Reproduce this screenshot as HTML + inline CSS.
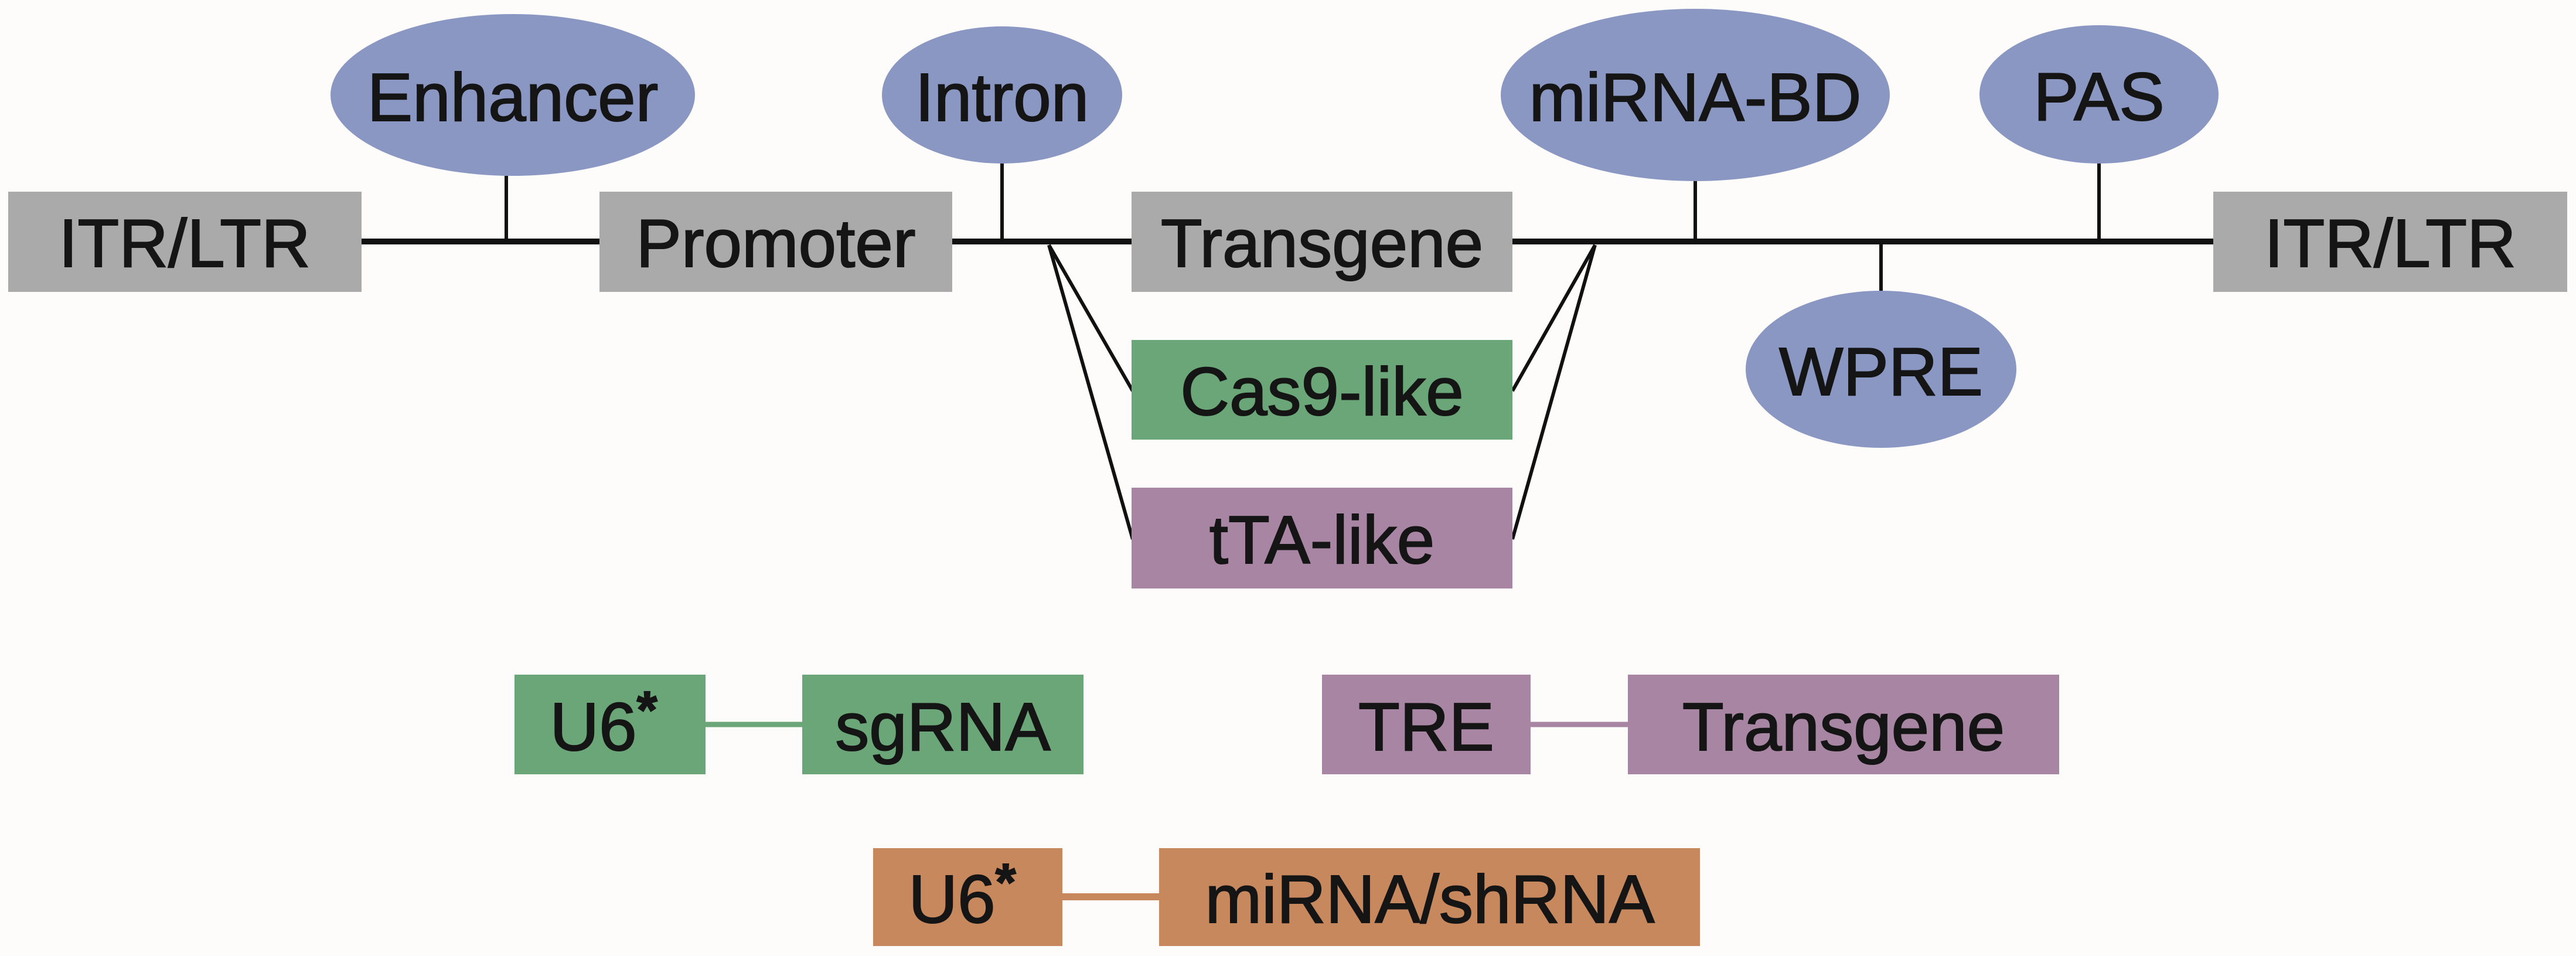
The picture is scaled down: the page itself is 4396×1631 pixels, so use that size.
<!DOCTYPE html>
<html><head><meta charset="utf-8"><style>
html,body{margin:0;padding:0;background:#fdfcfa}
svg{display:block}
text{font-family:"Liberation Sans",Arial,sans-serif;font-size:116px;fill:#151515;stroke:#151515;stroke-width:2;text-anchor:middle}
</style></head><body>
<svg width="4396" height="1631" viewBox="0 0 4396 1631" xmlns="http://www.w3.org/2000/svg">
<rect width="4396" height="1631" fill="#fdfcfa"/>
<line x1="610" y1="412" x2="3780" y2="412" stroke="#111" stroke-width="10"/>
<g stroke="#111" stroke-width="6">
<line x1="864" y1="300" x2="864" y2="412"/>
<line x1="1710" y1="278" x2="1710" y2="412"/>
<line x1="2893" y1="308" x2="2893" y2="412"/>
<line x1="3582" y1="278" x2="3582" y2="412"/>
<line x1="3210" y1="412" x2="3210" y2="498"/>
<line x1="1790" y1="418" x2="1933" y2="667"/>
<line x1="1790" y1="418" x2="1933" y2="920"/>
<line x1="2722" y1="418" x2="2581" y2="667"/>
<line x1="2722" y1="418" x2="2581" y2="920"/>
</g>
<g fill="#aaaaaa">
<rect x="14" y="327" width="603" height="171"/>
<rect x="1023" y="327" width="602" height="171"/>
<rect x="1931" y="327" width="650" height="171"/>
<rect x="3777" y="327" width="604" height="171"/>
</g>
<rect x="1931" y="580" width="650" height="170" fill="#6aa677"/>
<rect x="1931" y="832" width="650" height="172" fill="#a886a3"/>
<g fill="#8b97c3">
<ellipse cx="875" cy="162" rx="311" ry="138"/>
<ellipse cx="1710" cy="162" rx="205" ry="117"/>
<ellipse cx="2893" cy="162" rx="332" ry="147"/>
<ellipse cx="3582" cy="161" rx="204" ry="118"/>
<ellipse cx="3210" cy="630" rx="231" ry="134"/>
</g>
<text x="875" y="206">Enhancer</text>
<text x="1710" y="206">Intron</text>
<text x="2893" y="206">miRNA-BD</text>
<text x="3582" y="205">PAS</text>
<text x="3210" y="674">WPRE</text>
<text x="315" y="455">ITR/LTR</text>
<text x="1324" y="455">Promoter</text>
<text x="2256" y="455">Transgene</text>
<text x="4079" y="455">ITR/LTR</text>
<text x="2256" y="708">Cas9-like</text>
<text x="2256" y="961">tTA-like</text>
<line x1="1204" y1="1236" x2="1369" y2="1236" stroke="#6aa677" stroke-width="9"/>
<rect x="878" y="1151" width="326" height="170" fill="#6aa677"/>
<rect x="1369" y="1151" width="480" height="170" fill="#6aa677"/>
<text x="1030" y="1280">U6<tspan dy="-38" font-size="90" font-weight="bold">*</tspan></text>
<text x="1609" y="1280">sgRNA</text>
<line x1="2612" y1="1236" x2="2778" y2="1236" stroke="#a886a3" stroke-width="9"/>
<rect x="2256" y="1151" width="356" height="170" fill="#a886a3"/>
<rect x="2778" y="1151" width="736" height="170" fill="#a886a3"/>
<text x="2434" y="1280">TRE</text>
<text x="3146" y="1280">Transgene</text>
<line x1="1813" y1="1530" x2="1978" y2="1530" stroke="#c8885e" stroke-width="12"/>
<rect x="1490" y="1447" width="323" height="167" fill="#c8885e"/>
<rect x="1978" y="1447" width="923" height="167" fill="#c8885e"/>
<text x="1642" y="1574">U6<tspan dy="-38" font-size="90" font-weight="bold">*</tspan></text>
<text x="2440" y="1574">miRNA/shRNA</text>
</svg>
</body></html>
